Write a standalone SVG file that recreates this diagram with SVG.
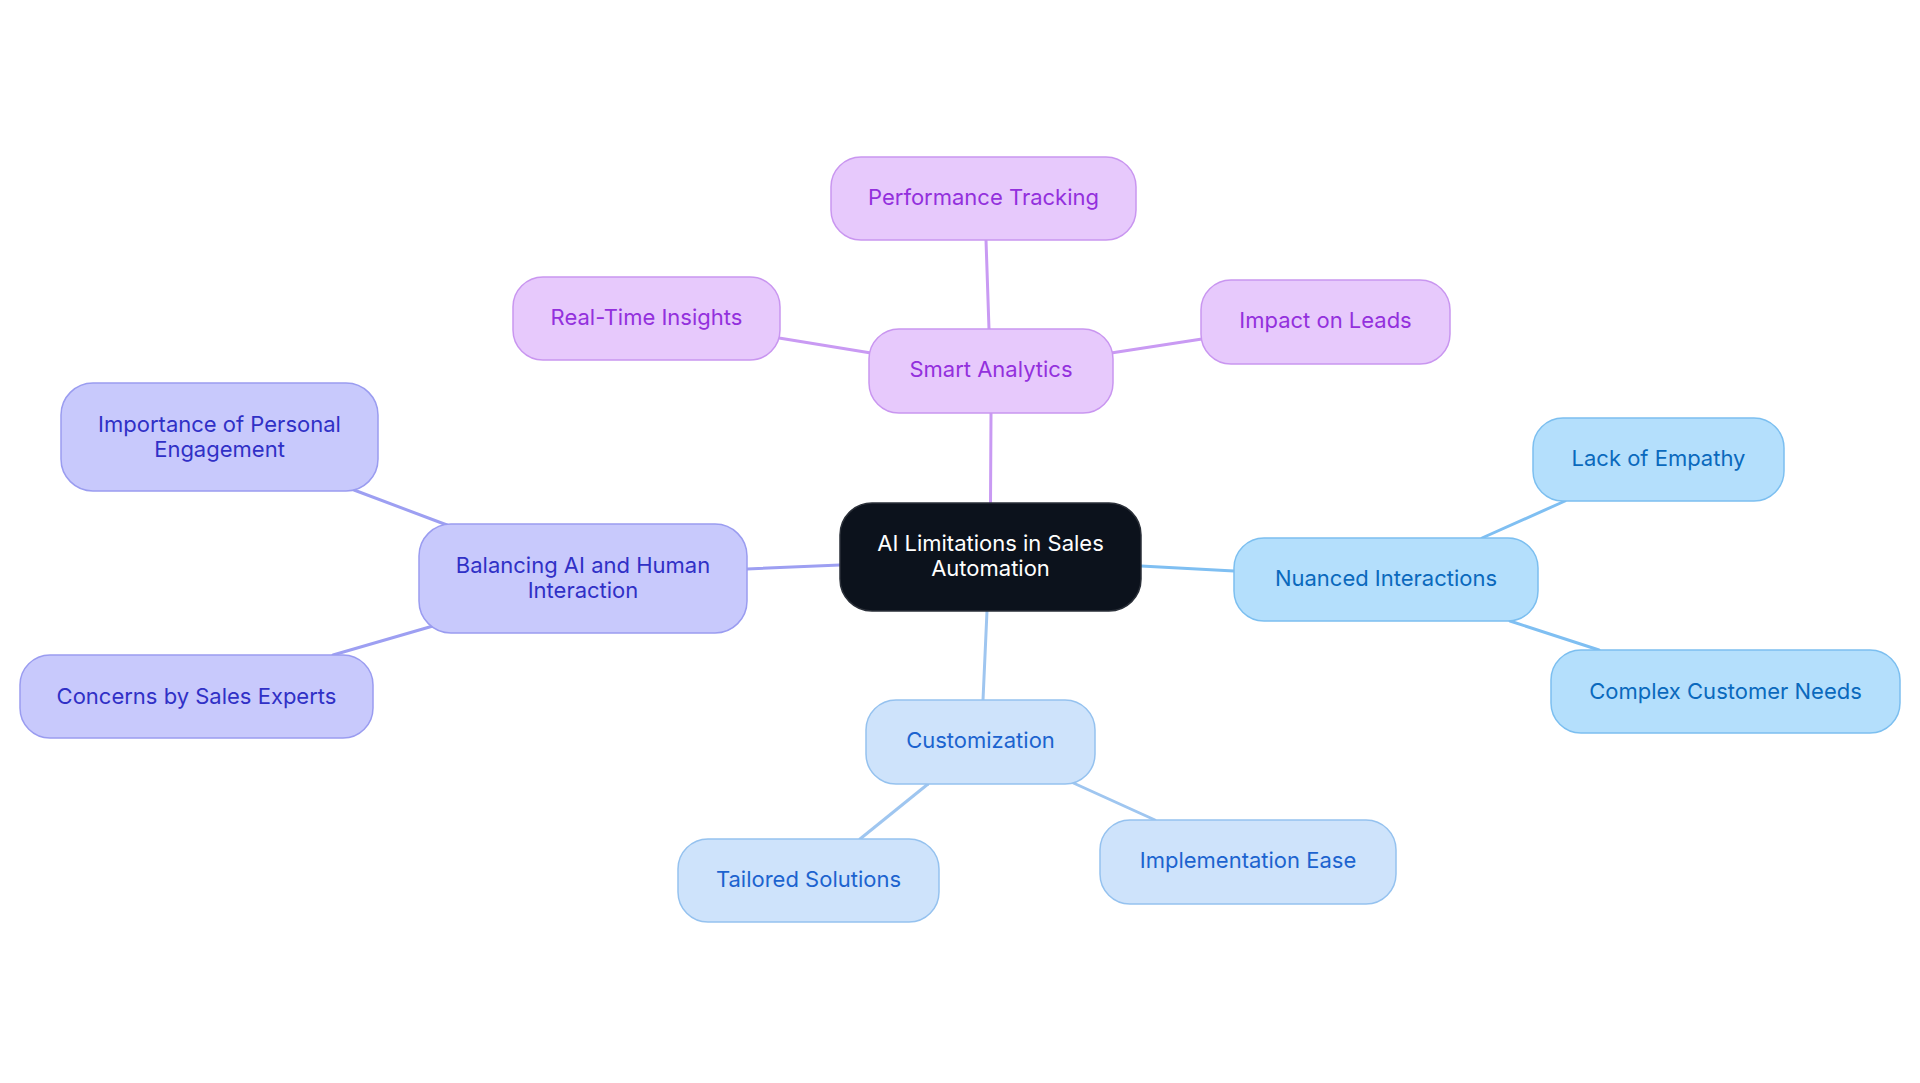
<svg xmlns="http://www.w3.org/2000/svg" width="1920" height="1083" viewBox="0 0 1920 1083">
<style>
text{font-family:Inter,"Noto Sans","Liberation Sans",sans-serif;font-size:22px;text-anchor:middle;dominant-baseline:central}
.edge{fill:none;stroke-width:3;stroke-linecap:round}
.ep{stroke:#c99af3}.ei{stroke:#9d9ff2}.eb{stroke:#7fbff2}.el{stroke:#9fc6f0}
.root rect{fill:#0c121c;stroke:#2a2f38;stroke-width:1.5}.root text{fill:#ffffff}
.p rect{fill:#e7c9fc;stroke:#c996f0;stroke-width:1.5}.p text{fill:#9330dd}
.i rect{fill:#c8c9fc;stroke:#9a9cf0;stroke-width:1.5}.i text{fill:#3030c6}
.b rect{fill:#b4dffc;stroke:#7cbff0;stroke-width:1.5}.b text{fill:#0a69bd}
.l rect{fill:#cee3fb;stroke:#95c2ef;stroke-width:1.5}.l text{fill:#1c63cf}
</style>
<rect width="1920" height="1083" fill="#ffffff"/>
<g id="connectors">
<line class="edge ep" x1="990.5" y1="503" x2="991" y2="413"/>
<line class="edge ep" x1="989" y1="329" x2="986" y2="240"/>
<line class="edge ep" x1="871" y1="353" x2="779" y2="338"/>
<line class="edge ep" x1="1111" y1="353" x2="1202" y2="339"/>
<line class="edge ei" x1="840" y1="565" x2="747" y2="569"/>
<line class="edge ei" x1="447" y1="525" x2="354" y2="490"/>
<line class="edge ei" x1="433" y1="626" x2="333" y2="655"/>
<line class="edge eb" x1="1141" y1="566" x2="1234" y2="571"/>
<line class="edge eb" x1="1482" y1="538" x2="1565" y2="501"/>
<line class="edge eb" x1="1510" y1="621" x2="1599" y2="650"/>
<line class="edge el" x1="987" y1="611" x2="983" y2="700"/>
<line class="edge el" x1="928" y1="784" x2="860" y2="839"/>
<line class="edge el" x1="1069" y1="781" x2="1155" y2="820"/>
</g>
<g id="root" class="root"><rect x="840" y="503" width="301" height="108" rx="32"/><text x="990.5" y="543">AI Limitations in Sales</text><text x="990.5" y="568">Automation</text></g>
<g id="smart-analytics" class="p"><rect x="869" y="329" width="244" height="84" rx="30"/><text x="991" y="369">Smart Analytics</text></g>
<g id="performance-tracking" class="p"><rect x="831" y="157" width="305" height="83" rx="30"/><text x="983.5" y="197">Performance Tracking</text></g>
<g id="real-time-insights" class="p"><rect x="513" y="277" width="267" height="83" rx="30"/><text x="646.5" y="317">Real-Time Insights</text></g>
<g id="impact-on-leads" class="p"><rect x="1201" y="280" width="249" height="84" rx="30"/><text x="1325.5" y="320">Impact on Leads</text></g>
<g id="balancing" class="i"><rect x="419" y="524" width="328" height="109" rx="32"/><text x="583" y="565">Balancing AI and Human</text><text x="583" y="590">Interaction</text></g>
<g id="importance" class="i"><rect x="61" y="383" width="317" height="108" rx="32"/><text x="219.5" y="424">Importance of Personal</text><text x="219.5" y="449">Engagement</text></g>
<g id="concerns" class="i"><rect x="20" y="655" width="353" height="83" rx="30"/><text x="196.5" y="696">Concerns by Sales Experts</text></g>
<g id="nuanced" class="b"><rect x="1234" y="538" width="304" height="83" rx="30"/><text x="1386" y="578">Nuanced Interactions</text></g>
<g id="lack-of-empathy" class="b"><rect x="1533" y="418" width="251" height="83" rx="30"/><text x="1658.5" y="458">Lack of Empathy</text></g>
<g id="complex-needs" class="b"><rect x="1551" y="650" width="349" height="83" rx="30"/><text x="1725.5" y="691">Complex Customer Needs</text></g>
<g id="customization" class="l"><rect x="866" y="700" width="229" height="84" rx="30"/><text x="980.5" y="740">Customization</text></g>
<g id="tailored" class="l"><rect x="678" y="839" width="261" height="83" rx="30"/><text x="808.5" y="879">Tailored Solutions</text></g>
<g id="implementation" class="l"><rect x="1100" y="820" width="296" height="84" rx="30"/><text x="1248" y="860">Implementation Ease</text></g>
</svg>
